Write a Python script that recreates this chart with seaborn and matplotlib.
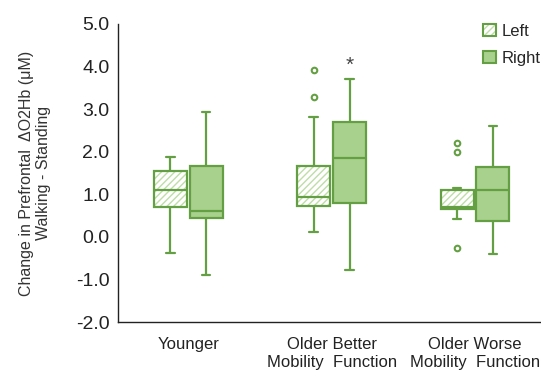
import numpy as np
import pandas as pd
import seaborn as sns
import matplotlib.pyplot as plt
from matplotlib.patches import Patch, PathPatch
from matplotlib.legend_handler import HandlerTuple

# Categories
groups = ['Younger', 'Older Better\nMobility  Function', 'Older Worse\nMobility  Function']
sides = ['Left', 'Right']

# Values (sorted, so quartiles fall on the box edges)
younger_left = [-0.37, 0.30, 0.70, 0.90, 1.10, 1.30, 1.55, 1.70, 1.88]
younger_right = [-0.89, 0.20, 0.45, 0.55, 0.61, 1.20, 1.67, 2.30, 2.94]
better_left = [0.12, 0.50, 0.60, 0.73, 0.80, 0.88, 0.93, 1.10, 1.40, 1.67, 2.82, 3.29, 3.92]
better_right = [-0.77, 0.40, 0.79, 1.30, 1.85, 2.20, 2.69, 3.10, 3.70]
worse_left = [-0.26, 0.42, 0.55, 0.66, 0.67, 0.68, 0.69, 0.80, 1.00, 1.10, 1.14, 1.99, 2.20]
worse_right = [-0.40, 0.10, 0.37, 0.80, 1.10, 1.40, 1.63, 2.10, 2.61]

rows = []
for g, l, r in zip(groups, [younger_left, better_left, worse_left],
                   [younger_right, better_right, worse_right]):
    rows += [(g, 'Left', v) for v in l]
    rows += [(g, 'Right', v) for v in r]
df = pd.DataFrame(rows, columns=['group', 'side', 'value'])

sns.set_style('white')
plt.rcParams['font.family'] = ['Liberation Sans', 'DejaVu Sans']

edge = '#64a043'
fill = '#a9d18e'
hatch_col = '#c0dca8'

fig = plt.figure(figsize=(5.41, 3.74), dpi=100)
ax = fig.add_axes([0.218, 0.139, 0.782, 0.797])

sns.boxplot(data=df, x='group', y='value', hue='side', order=groups, hue_order=sides,
            palette={'Left': fill, 'Right': fill}, saturation=1, width=0.5, gap=0.08,
            linecolor=edge, linewidth=1.6, whis=1.5, capwidths=0.06,
            flierprops=dict(marker='o', markersize=4, markerfacecolor='none',
                            markeredgecolor=edge, markeredgewidth=1.5),
            legend=False, ax=ax)

# hatch the left-side boxes
for p in list(ax.patches):
    xs = p.get_path().vertices[:, 0]
    cx = (xs.min() + xs.max()) / 2
    if cx < round(cx):
        p.set_facecolor('none')
        hp = PathPatch(p.get_path(), transform=p.get_transform(), facecolor='white',
                       edgecolor=hatch_col, hatch='/////', lw=0, zorder=p.get_zorder() - 0.1)
        ax.add_patch(hp)

# significance mark
ax.text(1.125, max(better_right) + 0.32, '*', ha='center', va='center',
        fontsize=15, color='#444444')

ax.set_xlim(-0.49, 2.46)
ax.set_ylim(-2, 5)
yt = np.arange(-2, 5.01, 1)
ax.set_yticks(yt)
ax.set_yticklabels([f'{v:.1f}' for v in yt], fontsize=14)
ax.set_xticks(range(len(groups)))
ax.set_xticklabels(groups, fontsize=12)
ax.tick_params(axis='both', length=0, colors='#222222')
ax.tick_params(axis='y', pad=6)
ax.tick_params(axis='x', pad=11)
ax.set_xlabel('')
ax.set_ylabel('Change in Prefrontal  \u0394O2Hb (\u03bcM)\nWalking - Standing',
              fontsize=11.5, color='#333333', labelpad=18)

for s in ['top', 'right']:
    ax.spines[s].set_visible(False)
for s in ['left', 'bottom']:
    ax.spines[s].set_color('#222222')
    ax.spines[s].set_linewidth(1.0)

left_handle = (Patch(facecolor='white', edgecolor=hatch_col, hatch='/////', lw=0),
               Patch(facecolor='none', edgecolor=edge, lw=1.5))
right_handle = Patch(facecolor=fill, edgecolor=edge, lw=1.5)
ax.legend([left_handle, right_handle], sides, loc='upper right',
          bbox_to_anchor=(1.035, 1.05), frameon=False, fontsize=12,
          handlelength=0.75, handleheight=0.75, handletextpad=0.35, labelspacing=0.7,
          handler_map={tuple: HandlerTuple(ndivide=1)})

fig.savefig('out.png', dpi=100)
